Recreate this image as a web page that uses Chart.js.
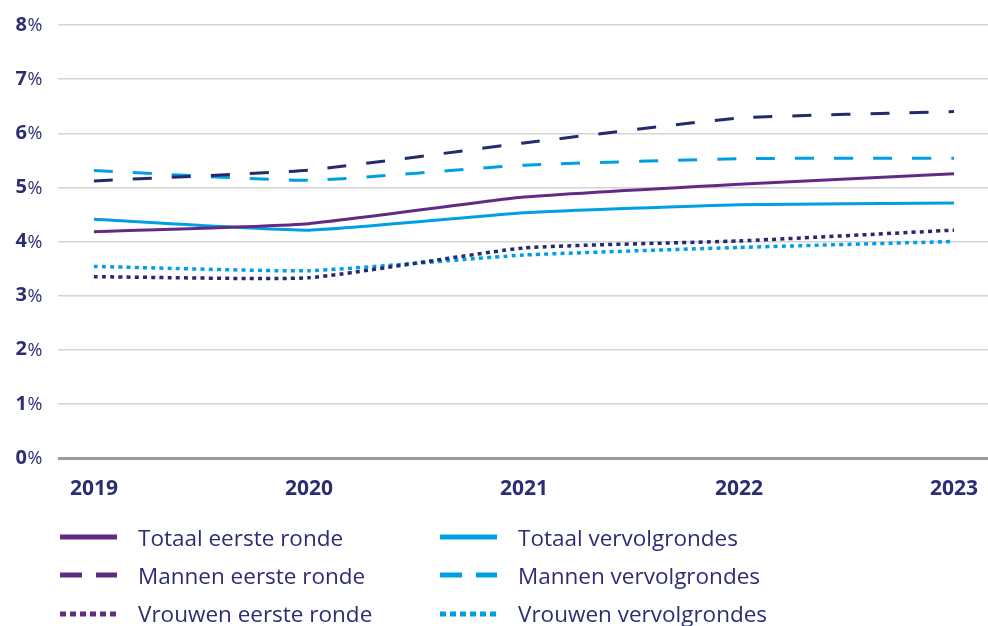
<!DOCTYPE html>
<html>
<head>
<meta charset="utf-8">
<script src="https://cdn.jsdelivr.net/npm/chart.js@4/dist/chart.umd.min.js"></script>
<style>
  html, body { margin: 0; padding: 0; background: #ffffff; }
  #wrap { position: relative; width: 988px; height: 626px; overflow: hidden; }
  #legend { position: absolute; left: 60px; top: 518px; width: 900px; font-family: "Open Sans", sans-serif; font-size: 22.5px; color: #2b2e72; }
  .row { display: flex; height: 38.3px; align-items: center; }
  .item { display: flex; align-items: center; width: 380px; white-space: nowrap; }
  .item svg { margin-right: 21px; flex: none; }
</style>
</head>
<body>
<div id="wrap">
  <canvas id="c" width="988" height="626"></canvas>
  <div id="legend"></div>
</div>
<script>
// ---- data ----
const years = [2019, 2020, 2021, 2022, 2023];
const yTickValues = [0, 1, 2, 3, 4, 5, 6, 7, 8];
const seriesNames = [
  "Totaal eerste ronde", "Totaal vervolgrondes",
  "Mannen eerste ronde", "Mannen vervolgrondes",
  "Vrouwen eerste ronde", "Vrouwen vervolgrondes"
];
const totaalEerste   = [4.18, 4.33, 4.82, 5.06, 5.25];
const totaalVervolg  = [4.41, 4.21, 4.53, 4.68, 4.71];
const mannenEerste   = [5.12, 5.32, 5.82, 6.28, 6.40];
const mannenVervolg  = [5.31, 5.13, 5.41, 5.53, 5.54];
const vrouwenEerste  = [3.35, 3.33, 3.88, 4.01, 4.21];
const vrouwenVervolg = [3.54, 3.46, 3.75, 3.89, 4.00];

// ---- styles ----
const PURPLE = '#632a84';
const BLUE = '#009fe3';
const NAVY = '#232a6e';
const TEXT = '#2b2e72';
const seriesValues = [totaalEerste, totaalVervolg, mannenEerste, mannenVervolg, vrouwenEerste, vrouwenVervolg];
const lineColors = [PURPLE, BLUE, NAVY, BLUE, NAVY, BLUE];
const legendColors = [PURPLE, BLUE, PURPLE, BLUE, PURPLE, BLUE];
const lineDashes = [[], [], [19, 20], [19, 20], [4, 4.2], [4, 4.2]];
const legendDashes = [null, null, '22 14', '22 14', '6 4', '6 4'];
const lineWidths = [3, 3, 3, 3, 3.5, 3.5];

const datasets = seriesNames.map((name, i) => ({
  label: name,
  data: years.map((yr, j) => ({ x: yr, y: seriesValues[i][j] })),
  borderColor: lineColors[i],
  backgroundColor: lineColors[i],
  borderWidth: lineWidths[i],
  borderDash: lineDashes[i],
  pointRadius: 0,
  tension: 0.15,
  fill: false
}));

// HTML legend (two columns, three rows)
const legendEl = document.getElementById('legend');
for (let r = 0; r < 3; r++) {
  const row = document.createElement('div');
  row.className = 'row';
  for (let c = 0; c < 2; c++) {
    const i = r * 2 + c;
    const item = document.createElement('div');
    item.className = 'item';
    const dash = legendDashes[i] ? ` stroke-dasharray="${legendDashes[i]}"` : '';
    item.innerHTML = `<svg width="57" height="10"><line x1="0" y1="5" x2="57" y2="5" stroke="${legendColors[i]}" stroke-width="5"${dash}/></svg><span>${seriesNames[i]}</span>`;
    row.appendChild(item);
  }
  legendEl.appendChild(row);
}

// plugin: draw the regular-weight "%" after each bold y tick number
const percentPlugin = {
  id: 'percentSuffix',
  afterDraw(chart) {
    const ys = chart.scales.y;
    const ctx = chart.ctx;
    ctx.save();
    ctx.font = '18px "Open Sans"';
    ctx.fillStyle = TEXT;
    ctx.textAlign = 'left';
    ctx.textBaseline = 'middle';
    const xRight = chart.chartArea.left - ys.options.ticks.padding;
    ys.ticks.forEach(t => {
      ctx.fillText('%', xRight + 0.5, ys.getPixelForValue(t.value) + 1);
    });
    ctx.restore();
  }
};

new Chart(document.getElementById('c'), {
  type: 'line',
  data: { datasets },
  options: {
    responsive: false,
    animation: false,
    devicePixelRatio: 1,
    layout: { padding: { top: 25, right: 0, left: 0, bottom: 108 } },
    plugins: { legend: { display: false }, tooltip: { enabled: false } },
    scales: {
      x: {
        type: 'linear',
        min: 2018.833,
        max: 2023.158,
        afterFit(s) { s.height = 60; s.paddingLeft = 0; s.paddingRight = 0; },
        afterBuildTicks(s) { s.ticks = years.map(v => ({ value: v })); },
        grid: { display: false, drawTicks: false },
        border: { display: false },
        ticks: {
          padding: 18,
          color: TEXT,
          font: { family: 'Open Sans', size: 21, weight: 'bold' },
          callback: v => String(v),
          maxRotation: 0,
          autoSkip: false
        }
      },
      y: {
        min: 0,
        max: 8,
        afterFit(s) { s.width = 58; s.paddingTop = 0; s.paddingBottom = 0; },
        afterBuildTicks(s) { s.ticks = yTickValues.map(v => ({ value: v })); },
        border: { display: false },
        grid: {
          drawTicks: false,
          color: ctx => (ctx.tick && ctx.tick.value === 0) ? '#9b9b9b' : '#d4d4d4',
          lineWidth: ctx => (ctx.tick && ctx.tick.value === 0) ? 3 : 1.5
        },
        ticks: {
          padding: 31,
          color: TEXT,
          font: { family: 'Open Sans', size: 20, weight: 'bold' },
          callback: v => String(v)
        }
      }
    }
  },
  plugins: [percentPlugin]
});
</script>
</body>
</html>
